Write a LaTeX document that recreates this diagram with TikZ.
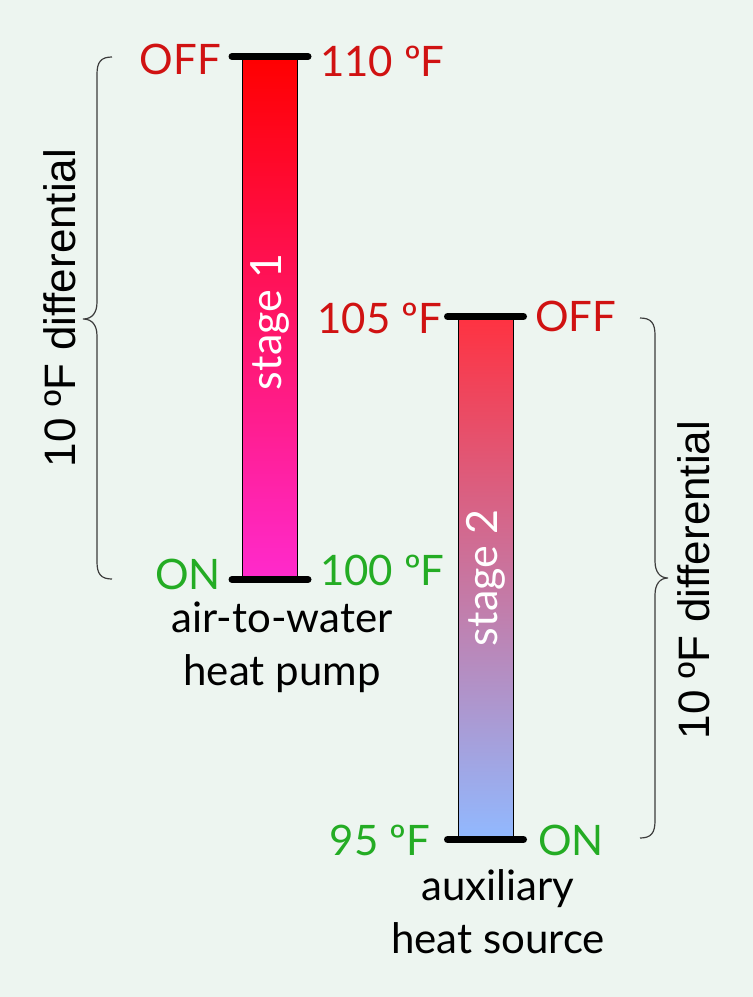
\documentclass[tikz,border=0pt]{standalone}
\usepackage{fontspec}
\setmainfont{Lato}
\newfontfamily\difffont{Liberation Sans}
\definecolor{bgc}{RGB}{237,245,240}
\definecolor{offred}{RGB}{208,18,18}
\definecolor{ongreen}{RGB}{36,172,36}
\definecolor{baraT}{RGB}{255,0,0}
\definecolor{baraM}{RGB}{255,20,105}
\definecolor{baraB}{RGB}{255,42,205}
\definecolor{barbT}{RGB}{255,50,65}
\definecolor{barbM}{RGB}{205,105,145}
\definecolor{barbB}{RGB}{145,185,255}
\definecolor{bracec}{RGB}{60,60,60}
\tikzset{
  barbox/.style={draw=black, line width=1pt, inner sep=0pt, minimum width=55pt, minimum height=522pt},
  capline/.style={line width=7pt, line cap=round, black},
  lbl/.style={inner sep=0pt, font=\fontsize{42}{53}\selectfont},
  offlbl/.style={lbl, text=offred},
  onlbl/.style={lbl, text=ongreen},
  stagelbl/.style={inner sep=0pt, text=white, rotate=90, font=\fontsize{43}{43}\selectfont},
  difflbl/.style={inner sep=0pt, rotate=90, font=\difffont\fontsize{44}{44}\selectfont},
  bracepath/.style={draw=bracec, line width=1.2pt},
}
\begin{document}
\begin{tikzpicture}[x=1pt,y=-1pt]
\useasboundingbox (0,0) rectangle (753,997);
\fill[bgc] (0,0) rectangle (753,997);

% bars
\node[barbox, top color=baraT, middle color=baraM, bottom color=baraB] (bar1) at (270,318) {};
\node[barbox, top color=barbT, middle color=barbM, bottom color=barbB] (bar2) at (485.5,578) {};

\node[stagelbl] (st1) at ([yshift=-4pt]bar1.center) {stage 1};
\node[stagelbl] (st2) at (bar2.center) {stage 2};

% cap lines
\coordinate (b1tl) at ([xshift=-10pt]bar1.north west);
\coordinate (b1tr) at ([xshift=10pt]bar1.north east);
\coordinate (b1bl) at ([xshift=-10pt]bar1.south west);
\coordinate (b1br) at ([xshift=10pt]bar1.south east);
\coordinate (b2tl) at ([xshift=-10pt]bar2.north west);
\coordinate (b2tr) at ([xshift=10pt]bar2.north east);
\coordinate (b2bl) at ([xshift=-10pt]bar2.south west);
\coordinate (b2br) at ([xshift=10pt]bar2.south east);
\draw[capline] (b1tl) -- (b1tr);
\draw[capline] (b1bl) -- (b1br);
\draw[capline] (b2tl) -- (b2tr);
\draw[capline] (b2bl) -- (b2br);

% labels bar 1
\node[offlbl, anchor=east] (off1) at (221,59) {OFF};
\node[offlbl, anchor=west] (t110) at (320,61) {110 ºF};
\node[onlbl, anchor=east] (on1) at (221,574) {ON};
\node[onlbl, anchor=west] (t100) at (320,570) {100 ºF};
\node[lbl, anchor=base, align=center] (hp) at (282,685) {air-to-water\\heat pump};

% labels bar 2
\node[offlbl, anchor=east] (t105) at (442,318) {105 ºF};
\node[offlbl, anchor=west] (off2) at (535,316) {OFF};
\node[onlbl, anchor=east] (t95) at (430,840) {95 ºF};
\node[onlbl, anchor=west] (on2) at (538,840) {ON};
\node[lbl, anchor=base, align=center] (aux) at (498,953) {auxiliary\\heat source};

% braces
\draw[bracepath] (112,57) .. controls (101,57) and (97,62) .. (97,74) -- (97,302)
  .. controls (97,313) and (92,319) .. (83,319)
  .. controls (92,319) and (97,325) .. (97,336) -- (97,562)
  .. controls (97,574) and (101,579) .. (112,579);
\draw[bracepath] (640,318) .. controls (651,318) and (655,323) .. (655,335) -- (655,561)
  .. controls (655,572) and (660,578) .. (668,578)
  .. controls (660,578) and (655,584) .. (655,595) -- (655,821)
  .. controls (655,833) and (651,838) .. (640,838);

\node[difflbl] (d1) at (60,308) {10 ºF differential};
\node[difflbl] (d2) at (694,580) {10 ºF differential};
\end{tikzpicture}
\end{document}
